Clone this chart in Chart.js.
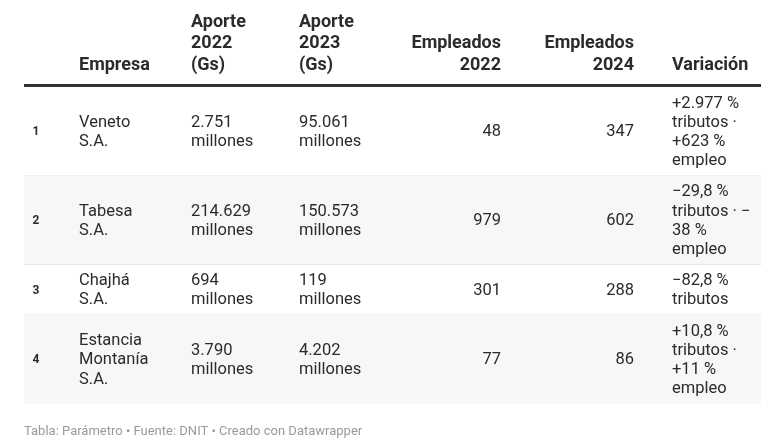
<!DOCTYPE html>
<html>
<head>
<meta charset="utf-8">
<script src="https://cdn.jsdelivr.net/npm/chart.js@4"></script>
<style>
html, body { margin: 0; padding: 0; background: #fff; }
#wrap { width: 782px; height: 443px; }
</style>
</head>
<body>
<div id="wrap"><canvas id="tabla"></canvas></div>
<script>
var headers = [['Empresa'], ['Aporte', '2022', '(Gs)'], ['Aporte', '2023', '(Gs)'], ['Empleados', '2022'], ['Empleados', '2024'], ['Variación']];
var ranks = ['1', '2', '3', '4'];
var empresas = [['Veneto', 'S.A.'], ['Tabesa', 'S.A.'], ['Chajhá', 'S.A.'], ['Estancia', 'Montanía', 'S.A.']];
var aporte2022 = [['2.751', 'millones'], ['214.629', 'millones'], ['694', 'millones'], ['3.790', 'millones']];
var aporte2023 = [['95.061', 'millones'], ['150.573', 'millones'], ['119', 'millones'], ['4.202', 'millones']];
var empleados2022 = [48, 979, 301, 77];
var empleados2024 = [347, 602, 288, 86];
var variacion = [
    ['+2.977 %', 'tributos ·', '+623 %', 'empleo'],
    ['−29,8 %', 'tributos · −', '38 %', 'empleo'],
    ['−82,8 %', 'tributos'],
    ['+10,8 %', 'tributos ·', '+11 %', 'empleo']
];
var footer = 'Tabla: Parámetro • Fuente: DNIT • Creado con Datawrapper';

// layout of the table (scale units = px)
var left = 24, right = 761;
var headLine = 85.5;
var lineH = 19.2, pad = 6;
var colX = [79, 191, 299, 501, 634, 672];
var colAlign = ['left', 'left', 'left', 'right', 'right', 'left'];
var rankX = 36;
var textColor = '#2b2b2b';

function lines(v) {
    return Array.isArray(v) ? v : [String(v)];
}

var tablePlugin = {
    id: 'tabla',
    afterDraw: function (chart) {
        var ctx = chart.ctx;
        var x = chart.scales.x, y = chart.scales.y;
        ctx.save();

        // header
        ctx.fillStyle = textColor;
        ctx.font = 'bold 18px Roboto';
        ctx.textBaseline = 'middle';
        headers.forEach(function (h, c) {
            ctx.textAlign = colAlign[c];
            for (var k = 0; k < h.length; k++) {
                var yy = 65.5 - (h.length - 1 - k) * 21.6;
                ctx.fillText(h[k], x.getPixelForValue(colX[c]), y.getPixelForValue(yy));
            }
        });

        // rows
        var top = 87;
        ranks.forEach(function (r, i) {
            var cells = [empresas[i], aporte2022[i], aporte2023[i], empleados2022[i], empleados2024[i], variacion[i]];
            var n = 0;
            cells.forEach(function (c) { n = Math.max(n, lines(c).length); });
            var h = n * lineH + 2 * pad;
            var y0 = y.getPixelForValue(top), y1 = y.getPixelForValue(top + h);
            if (i % 2 == 1) {
                ctx.fillStyle = '#f7f7f7';
                ctx.fillRect(x.getPixelForValue(left), y0, x.getPixelForValue(right) - x.getPixelForValue(left), y1 - y0);
            }
            if (i < ranks.length - 1) {
                ctx.fillStyle = '#e6e6e6';
                ctx.fillRect(x.getPixelForValue(left), y1 - 0.5, x.getPixelForValue(right) - x.getPixelForValue(left), 1);
            }
            var mid = top + h / 2 + 0.8;
            ctx.fillStyle = textColor;
            ctx.font = 'bold 12px Roboto';
            ctx.textAlign = 'center';
            ctx.fillText(r, x.getPixelForValue(rankX), y.getPixelForValue(mid));
            ctx.font = '16.5px Roboto';
            cells.forEach(function (c, j) {
                var ls = lines(c);
                ctx.textAlign = colAlign[j];
                for (var k = 0; k < ls.length; k++) {
                    var yy = mid + (k - (ls.length - 1) / 2) * lineH;
                    ctx.fillText(ls[k], x.getPixelForValue(colX[j]), y.getPixelForValue(yy));
                }
            });
            top += h;
        });

        // header rule
        ctx.fillStyle = '#333';
        ctx.fillRect(x.getPixelForValue(left), y.getPixelForValue(headLine) - 1.5, x.getPixelForValue(right) - x.getPixelForValue(left), 3);

        // footer
        ctx.fillStyle = '#9a9a9a';
        ctx.font = '13px Roboto';
        ctx.textAlign = 'left';
        ctx.fillText(footer, x.getPixelForValue(left), y.getPixelForValue(432));
        ctx.restore();
    }
};

var chart = new Chart(document.getElementById('tabla'), {
    type: 'scatter',
    data: { datasets: [{ data: [] }] },
    options: {
        responsive: true,
        maintainAspectRatio: false,
        animation: false,
        layout: { padding: 0 },
        plugins: { legend: { display: false }, tooltip: { enabled: false } },
        scales: {
            x: { type: 'linear', min: 0, max: 782, display: false },
            y: { type: 'linear', min: 0, max: 443, reverse: true, display: false }
        }
    },
    plugins: [tablePlugin]
});
</script>
</body>
</html>
